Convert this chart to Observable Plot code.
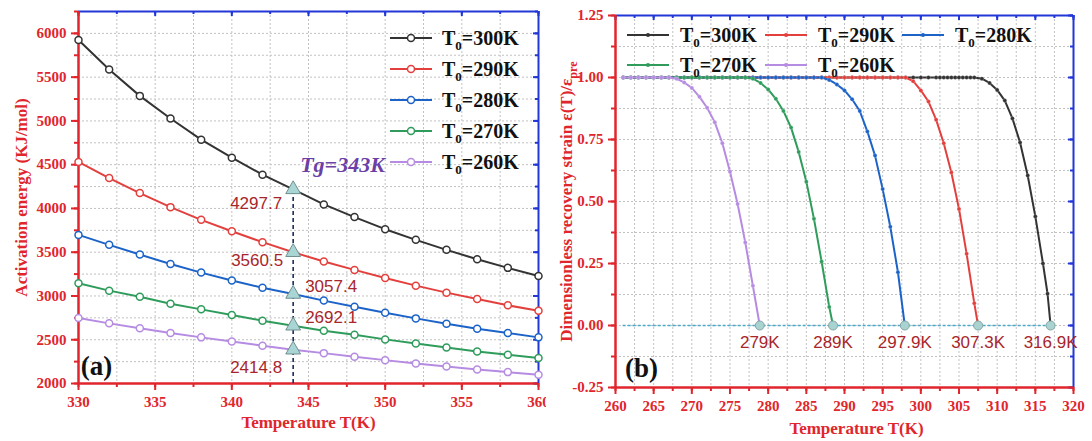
<!DOCTYPE html>
<html><head><meta charset="utf-8">
<script src="https://cdn.jsdelivr.net/npm/d3@7"></script>
<script src="https://cdn.jsdelivr.net/npm/@observablehq/plot@0.6"></script>
<style>
body{margin:0;background:#fff;}
#wrap{display:flex;width:1092px;height:441px;overflow:hidden;}
#wrap svg{display:block;flex:none;}
</style></head><body><div id="wrap"></div>
<script>
// ---------- DATA: panel (a) ----------
const seriesT0 = [300, 290, 280, 270, 260];
const tempA = [330, 332, 334, 336, 338, 340, 342, 344, 346, 348, 350, 352, 354, 356, 358, 360];
const energy300 = [5924, 5588, 5286, 5027, 4786, 4580, 4386, 4218, 4046, 3901, 3763, 3641, 3527, 3420, 3321, 3229];
const energy290 = [4531, 4347, 4176, 4015, 3870, 3740, 3615, 3500, 3393, 3298, 3206, 3118, 3038, 2966, 2893, 2832];
const energy280 = [3698, 3584, 3473, 3366, 3267, 3176, 3095, 3023, 2947, 2878, 2809, 2744, 2683, 2626, 2576, 2527];
const energy270 = [3145, 3061, 2992, 2912, 2847, 2782, 2718, 2660, 2603, 2557, 2504, 2458, 2412, 2366, 2328, 2290];
const energy260 = [2748, 2687, 2630, 2576, 2527, 2481, 2431, 2386, 2347, 2305, 2267, 2229, 2195, 2160, 2130, 2099];
const tgTemp = 344;
const tgTitle = "Tg=343K";
const tgValueLabels = ["4297.7", "3560.5", "3057.4", "2692.1", "2414.8"];
const xTicksA = [330, 335, 340, 345, 350, 355, 360];
const yTicksA = [2000, 2500, 3000, 3500, 4000, 4500, 5000, 5500, 6000];
const xTitleA = "Temperature T(K)";
const yTitleA = "Activation energy (KJ/mol)";

// ---------- DATA: panel (b) ----------
const tempB300 = [261,262,263,264,265,266,267,268,269,270,271,272,273,274,275,276,277,278,279,280,281,282,283,284,285,286,287,288,289,290,291,292,293,294,295,296,297,298,299,300,301,302,302.5,303,303.5,304,304.5,305,305.5,306,306.5,307,308,309,310,311,312,313,314,315,316,316.6,317];
const strainB300 = [1,1,1,1,1,1,1,1,1,1,1,1,1,1,1,1,1,1,1,1,1,1,1,1,1,1,1,1,1,1,1,1,1,1,1,1,1,1,1,1,1,1,1,1,1,1,1,1,1,1,1,1,0.995,0.978,0.95,0.907,0.835,0.738,0.605,0.44,0.25,0.128,0];
const tempB290 = [261,262,263,264,265,266,267,268,269,270,271,272,273,274,275,276,277,278,279,280,281,282,283,284,285,286,287,288,289,290,291,292,293,294,295,296,297,298,299,300,301,302,303,304,305,306,307,307.5];
const strainB290 = [1,1,1,1,1,1,1,1,1,1,1,1,1,1,1,1,1,1,1,1,1,1,1,1,1,1,1,1,1,1,1,1,1,1,1,1,1,1,0.985,0.948,0.903,0.83,0.735,0.617,0.47,0.289,0.09,0];
const tempB280 = [261,262,263,264,265,266,267,268,269,270,271,272,273,274,275,276,277,278,279,280,281,282,283,284,285,286,287,288,289,290,291,292,293,294,295,296,297,297.9];
const strainB280 = [1,1,1,1,1,1,1,1,1,1,1,1,1,1,1,1,1,1,1,1,1,1,1,1,1,1,1,0.99,0.972,0.948,0.912,0.865,0.782,0.685,0.55,0.398,0.215,0];
const tempB270 = [261,262,263,264,265,266,267,268,269,270,271,272,273,274,275,276,277,278,279,280,281,282,283,284,285,286,287,288,288.5];
const strainB270 = [1,1,1,1,1,1,1,1,1,1,1,1,1,1,1,1,1,0.995,0.978,0.952,0.914,0.865,0.798,0.7,0.58,0.43,0.258,0.075,0];
const tempB260 = [261,262,263,264,265,266,267,268,269,270,271,272,273,274,275,276,277,278,278.9];
const strainB260 = [1,1,1,1,1,1,1,0.995,0.98,0.958,0.922,0.878,0.82,0.735,0.62,0.49,0.335,0.16,0];
const endLabelsB = ["316.9K", "307.3K", "297.9K", "289K", "279K"];
const xTicksB = [260, 265, 270, 275, 280, 285, 290, 295, 300, 305, 310, 315, 320];
const yTicksB = [-0.25, 0, 0.25, 0.5, 0.75, 1, 1.25];
const xTitleB = "Temperature T(K)";
const yTitleB = "Dimensionless recovery strain \u03b5(T)/\u03b5_{pre}";

// ---------- STYLE ----------
const W = 546, H = 441;
const RED = "#e0262c", BLUE = "#2337d8", LABELRED = "#a8262b";
const SERIF = "Liberation Serif, Times New Roman, serif";
const SANS = "Liberation Sans, Arial, sans-serif";
const colors = ["#333333", "#e3403d", "#1c63c8", "#2f9c5c", "#b68be2"];
const gridStyle = {stroke: "#c2c2c2", strokeOpacity: 1, strokeWidth: 1, strokeDasharray: "2,2"};
const tickFont = {fontFamily: SERIF, fontWeight: "bold", fontSize: 15, fill: RED};
const titleFont = {fontFamily: SERIF, fontWeight: "bold", fontSize: 17, fill: RED};

// ---------- build tables ----------
const energies = [energy300, energy290, energy280, energy270, energy260];
const names = seriesT0.map(t => `T0=${t}K`);
const rowsA = names.flatMap((s, i) => tempA.map((t, j) => ({s, i, T: t, E: energies[i][j]})));
const tgRows = names.map((s, i) => ({s, i, T: tgTemp, E: energies[i][tempA.indexOf(tgTemp)], label: tgValueLabels[i]}));

const tempsB = [tempB300, tempB290, tempB280, tempB270, tempB260];
const strainsB = [strainB300, strainB290, strainB280, strainB270, strainB260];
const rowsB = names.map((s, i) => tempsB[i].map((t, j) => ({s, i, T: t, S: strainsB[i][j]})));
const endRows = rowsB.map((r, i) => ({...r[r.length - 1], label: endLabelsB[i]}));

// frame + axes built from rules and text marks
function frameMarks(xDom, yDom, xTicks, yTicks, pw, ph, step, yFmt) {
  const minorX = d3.range(xDom[0], xDom[1] + 1e-6, step[0]);
  const minorY = d3.range(yDom[0], yDom[1] + 1e-6, step[1]);
  return [
    Plot.gridX({ticks: minorX.slice(1, -1), ...gridStyle}),
    Plot.gridY({ticks: minorY.slice(1, -1), ...gridStyle}),
    // inward blue ticks on top and right
    Plot.ruleX(minorX, {x: d => d, stroke: BLUE, strokeWidth: 2, insetBottom: ph - 3}),
    Plot.ruleX(xTicks, {x: d => d, stroke: BLUE, strokeWidth: 2, insetBottom: ph - 5}),
    Plot.ruleY(minorY, {y: d => d, stroke: BLUE, strokeWidth: 2, insetLeft: pw - 3}),
    Plot.ruleY(yTicks, {y: d => d, stroke: BLUE, strokeWidth: 2, insetLeft: pw - 5}),
    Plot.ruleY([yDom[1]], {stroke: BLUE, strokeWidth: 2}),
    Plot.ruleX([xDom[1]], {stroke: BLUE, strokeWidth: 2}),
    // outward red ticks on left and bottom
    Plot.ruleY(minorY, {y: d => d, stroke: RED, strokeWidth: 2, insetRight: pw, insetLeft: -4}),
    Plot.ruleY(yTicks, {y: d => d, stroke: RED, strokeWidth: 2, insetRight: pw, insetLeft: -7}),
    Plot.ruleX(minorX, {x: d => d, stroke: RED, strokeWidth: 2, insetTop: ph, insetBottom: -4}),
    Plot.ruleX(xTicks, {x: d => d, stroke: RED, strokeWidth: 2, insetTop: ph, insetBottom: -7}),
    Plot.ruleX([xDom[0]], {stroke: RED, strokeWidth: 2.5}),
    Plot.ruleY([yDom[0]], {stroke: RED, strokeWidth: 2.5}),
    Plot.text(yTicks, {x: xDom[0], y: d => d, text: yFmt, dx: -12, textAnchor: "end", lineAnchor: "middle", ...tickFont}),
    Plot.text(xTicks, {x: d => d, y: yDom[0], text: d => String(d), dy: 19, textAnchor: "middle", lineAnchor: "middle", ...tickFont})
  ];
}

// ---------- panel (a) ----------
const mA = {l: 78, r: 8, t: 11, b: 58};
const pwA = W - mA.l - mA.r, phA = H - mA.t - mA.b;
const xDomA = [330, 360], yDomA = [2000, 6250];
const tgLabelPos = [[-11, 14, "end"], [-10, 8, "end"], [12, -7, "start"], [12, -8, "start"], [-11, 18, "end"]];

const plotA = Plot.plot({
  width: W, height: H,
  marginLeft: mA.l, marginRight: mA.r, marginTop: mA.t, marginBottom: mA.b,
  style: {background: "white", overflow: "hidden"},
  x: {domain: xDomA, axis: null},
  y: {domain: yDomA, axis: null},
  marks: [
    ...frameMarks(xDomA, yDomA, xTicksA, yTicksA, pwA, phA, [2.5, 250], d => String(d)),
    ...names.flatMap((s, i) => [
      Plot.line(rowsA.filter(d => d.s === s), {x: "T", y: "E", stroke: colors[i], strokeWidth: 2}),
      Plot.dot(rowsA.filter(d => d.s === s), {x: "T", y: "E", r: 3.5, stroke: colors[i], fill: "white", strokeWidth: 1.5})
    ]),
    Plot.ruleX([tgTemp], {y1: yDomA[0], y2: tgRows[0].E, stroke: "#1d2b5c", strokeWidth: 1.6, strokeDasharray: "4,3"}),
    Plot.dot(tgRows, {x: "T", y: "E", symbol: "triangle", r: 5.5, fill: "#a9d5d5", stroke: "#70908f", strokeWidth: 1}),
    ...tgRows.map((d, i) => Plot.text([d], {x: "T", y: "E", text: "label", dx: tgLabelPos[i][0], dy: tgLabelPos[i][1], textAnchor: tgLabelPos[i][2], fill: LABELRED, fontFamily: SANS, fontSize: 17})),
    Plot.text([tgTitle], {x: tgTemp, y: tgRows[0].E, text: d => d, dx: 7, dy: -24, textAnchor: "start", fill: "#6b3fa6", fontFamily: SERIF, fontWeight: "bold", fontStyle: "italic", fontSize: 22}),
    Plot.text([yTitleA], {text: d => d, frameAnchor: "left", rotate: -90, dx: -57, textAnchor: "middle", lineAnchor: "middle", ...titleFont}),
    Plot.text([xTitleA], {text: d => d, frameAnchor: "bottom", dy: 39, textAnchor: "middle", lineAnchor: "middle", ...titleFont}),
    Plot.text(["(a)"], {text: d => d, frameAnchor: "bottom-left", dx: 18, dy: -17, textAnchor: "middle", lineAnchor: "middle", fontFamily: SERIF, fontWeight: "bold", fontSize: 27, fill: "#111"})
  ]
});

// ---------- panel (b) ----------
const mB = {l: 69, r: 19, t: 15, b: 54};
const pwB = W - mB.l - mB.r, phB = H - mB.t - mB.b;
const xDomB = [260, 320], yDomB = [-0.25, 1.25];

const plotB = Plot.plot({
  width: W, height: H,
  marginLeft: mB.l, marginRight: mB.r, marginTop: mB.t, marginBottom: mB.b,
  style: {background: "white", overflow: "hidden"},
  x: {domain: xDomB, axis: null},
  y: {domain: yDomB, axis: null},
  marks: [
    ...frameMarks(xDomB, yDomB, xTicksB, yTicksB, pwB, phB, [2.5, 0.125], d => d.toFixed(2)),
    ...rowsB.flatMap((rows, i) => [
      Plot.line(rows, {x: "T", y: "S", stroke: colors[i], strokeWidth: 2}),
      Plot.dot(rows, {x: "T", y: "S", r: 2, fill: colors[i], stroke: "white", strokeOpacity: 0.35, strokeWidth: 0.6})
    ]),
    Plot.ruleY([0], {x1: d3.min(tempsB.flat()), x2: d3.max(endRows, d => d.T), stroke: "#48abc9", strokeWidth: 1.6, strokeDasharray: "3,2"}),
    Plot.dot(endRows, {x: "T", y: "S", r: 4.5, fill: "#a9d3d0", stroke: "#86a5a5", strokeWidth: 1}),
    Plot.text(endRows, {x: "T", y: "S", text: "label", dy: 17, fill: LABELRED, fontFamily: SANS, fontSize: 17}),
    Plot.text([yTitleB], {text: d => d, frameAnchor: "left", rotate: -90, dx: -49, textAnchor: "middle", lineAnchor: "middle", ...titleFont}),
    Plot.text([xTitleB], {text: d => d, frameAnchor: "bottom", dx: 12, dy: 41, textAnchor: "middle", lineAnchor: "middle", ...titleFont}),
    Plot.text(["(b)"], {text: d => d, frameAnchor: "bottom-left", dx: 26, dy: -19, textAnchor: "middle", lineAnchor: "middle", fontFamily: SERIF, fontWeight: "bold", fontSize: 27, fill: "#111"})
  ]
});

const wrap = document.getElementById("wrap");
wrap.append(plotA, plotB);

// ---------- subscripts in text ----------
function applySubscripts(svg) {
  svg.querySelectorAll("text").forEach(t => {
    const s = t.textContent;
    if (!s.includes("_{")) return;
    const fs = parseFloat(getComputedStyle(t).fontSize) || 16;
    const parts = s.split(/(_\{[^}]*\})/).filter(p => p.length);
    while (t.firstChild) t.removeChild(t.firstChild);
    let sub = false;
    const ns = "http://www.w3.org/2000/svg";
    parts.forEach(p => {
      const ts = document.createElementNS(ns, "tspan");
      if (p.startsWith("_{")) {
        ts.textContent = p.slice(2, -1);
        ts.setAttribute("font-size", fs * 0.72);
        ts.setAttribute("dy", fs * 0.3);
        sub = true;
      } else {
        ts.textContent = p;
        if (sub) { ts.setAttribute("dy", -fs * 0.3); sub = false; }
      }
      t.appendChild(ts);
    });
  });
}
applySubscripts(plotA); applySubscripts(plotB);

// ---------- legends ----------
function drawLegend(svgEl, pos, opt) {
  const g = d3.select(svgEl).append("g")
    .attr("font-family", SERIF).attr("font-weight", "bold").attr("font-size", 20)
    .attr("text-anchor", "start");
  names.forEach((n, i) => {
    const [x, y] = pos[i];
    g.append("line").attr("x1", x).attr("x2", x + opt.len).attr("y1", y).attr("y2", y)
      .attr("stroke", colors[i]).attr("stroke-width", 2);
    g.append("circle").attr("cx", x + opt.len / 2).attr("cy", y).attr("r", opt.r)
      .attr("fill", opt.open ? "white" : colors[i]).attr("stroke", colors[i]).attr("stroke-width", opt.open ? 1.5 : 0);
    const t = g.append("text").attr("x", x + opt.textOff).attr("y", y).attr("dy", "0.35em")
      .attr("fill", "#111").attr("text-anchor", "start");
    t.append("tspan").text("T");
    t.append("tspan").attr("font-size", 13).attr("dy", 5).text("0");
    t.append("tspan").attr("dy", -5).text("=" + seriesT0[i] + "K");
  });
}
drawLegend(plotA, [[390, 38], [390, 69], [390, 100], [390, 131], [390, 162]], {len: 42, r: 3.5, open: true, textOff: 52});
drawLegend(plotB, [[81, 35], [219, 35], [356, 35], [81, 65], [219, 65]], {len: 42, r: 2, open: false, textOff: 53});
</script></body></html>
